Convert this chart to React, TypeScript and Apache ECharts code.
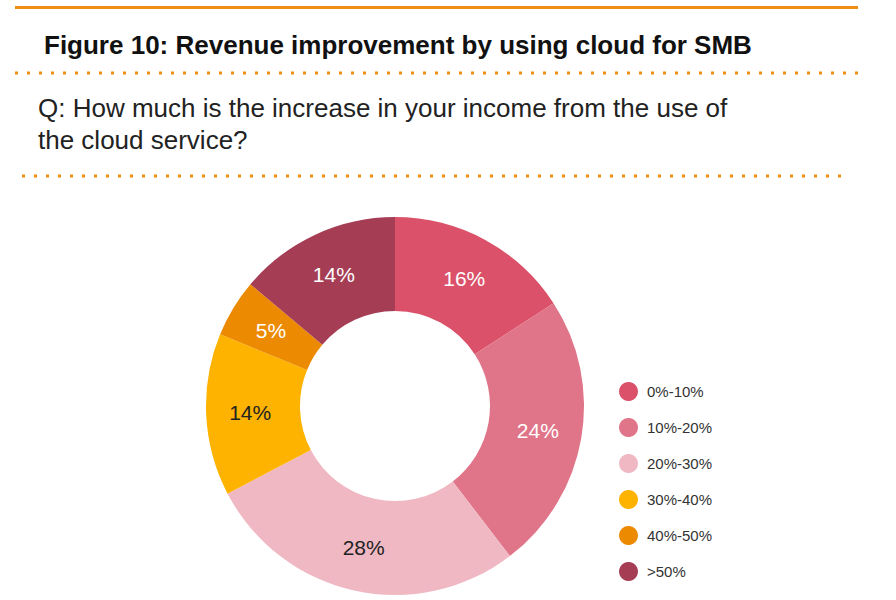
import React, { useEffect, useRef } from "react";
import * as echarts from "echarts";

const categories = ["0%-10%", "10%-20%", "20%-30%", "30%-40%", "40%-50%", ">50%"];
const values = [16, 24, 28, 14, 5, 14];
const sliceColors = ["#DB5169", "#E07488", "#EFB8C3", "#FDB300", "#EC8A02", "#A53D55"];
const labelColors = ["#ffffff", "#ffffff", "#222222", "#222222", "#ffffff", "#ffffff"];

const titleText = "Figure 10: Revenue improvement by using cloud for SMB";
const questionLines = ["Q: How much is the increase in your income from the use of", "the cloud service?"];

export default function App() {
  const ref = useRef<HTMLDivElement>(null);
  useEffect(() => {
    if (!ref.current) return;
    const chart = echarts.init(ref.current, null, { renderer: "svg" });
    const orange = "#EF8E12";
    chart.setOption({
      animation: false,
      backgroundColor: "#ffffff",
      graphic: [
        { type: "rect", shape: { x: 15, y: 6, width: 843, height: 3 }, style: { fill: orange } },
        {
          type: "text",
          x: 44,
          y: 45,
          style: { text: titleText, font: "bold 26px 'Liberation Sans', Arial, sans-serif", fill: "#111111", textVerticalAlign: "middle" },
        },
        {
          type: "line",
          shape: { x1: 15, y1: 73, x2: 860, y2: 73 },
          style: { stroke: orange, lineWidth: 3, lineDash: [3, 9] },
        },
        {
          type: "text",
          x: 38,
          y: 108,
          style: { text: questionLines[0], font: "26px 'Liberation Sans', Arial, sans-serif", fill: "#222222", textVerticalAlign: "middle" },
        },
        {
          type: "text",
          x: 38,
          y: 140,
          style: { text: questionLines[1], font: "26px 'Liberation Sans', Arial, sans-serif", fill: "#222222", textVerticalAlign: "middle" },
        },
        {
          type: "line",
          shape: { x1: 22, y1: 176, x2: 842, y2: 176 },
          style: { stroke: orange, lineWidth: 3, lineDash: [3, 9] },
        },
      ],
      legend: {
        orient: "vertical",
        left: 614,
        top: 377,
        itemWidth: 19,
        itemHeight: 19,
        itemGap: 17,
        icon: "circle",
        data: categories,
        textStyle: { fontSize: 15, color: "#333333", fontFamily: "'Liberation Sans', Arial, sans-serif", padding: [0, 0, 0, 4] },
      },
      series: [
        {
          type: "pie",
          center: [395, 406],
          radius: [95, 189],
          startAngle: 90,
          clockwise: true,
          avoidLabelOverlap: false,
          label: {
            show: true,
            position: "inside",
            fontSize: 21,
            fontFamily: "'Liberation Sans', Arial, sans-serif",
            formatter: (p: any) => p.value + "%",
          },
          labelLine: { show: false },
          emphasis: { disabled: true },
          data: categories.map((name, i) => ({
            name,
            value: values[i],
            itemStyle: { color: sliceColors[i] },
            label: { color: labelColors[i] },
          })),
        },
      ],
    });
    return () => chart.dispose();
  }, []);
  return <div ref={ref} style={{ position: "fixed", left: 0, top: 0, width: 896, height: 600 }} />;
}
